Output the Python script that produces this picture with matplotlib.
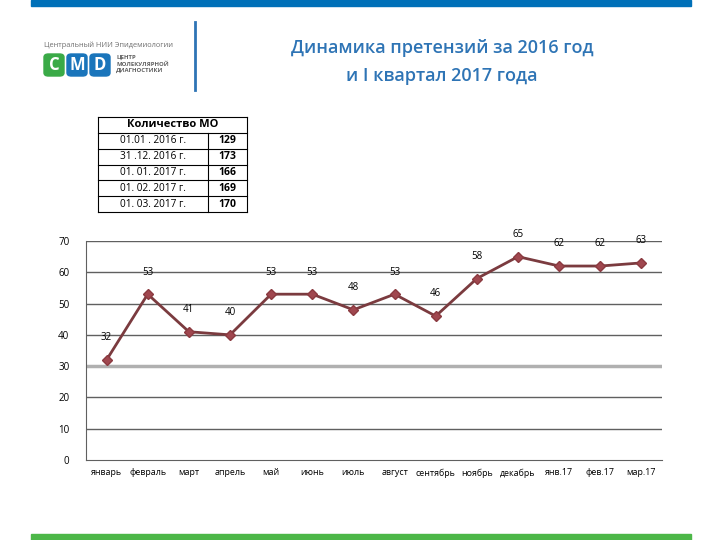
import matplotlib
matplotlib.use("Agg")
import matplotlib.pyplot as plt
from matplotlib.patches import Rectangle, FancyBboxPatch

plt.rcParams['font.family'] = ['Open Sans', 'DejaVu Sans']

months = ["январь", "февраль", "март", "апрель", "май", "июнь", "июль",
          "август", "сентябрь", "ноябрь", "декабрь", "янв.17", "фев.17", "мар.17"]
claims = [32, 53, 41, 40, 53, 53, 48, 53, 46, 58, 65, 62, 62, 63]

table_title = "Количество МО"
table_dates = ["01.01 . 2016 г.", "31 .12. 2016 г.", "01. 01. 2017 г.",
               "01. 02. 2017 г.", "01. 03. 2017 г."]
table_counts = [129, 173, 166, 169, 170]

W, H = 720, 540
fig = plt.figure(figsize=(7.2, 5.4), dpi=100)

def fx(px):
    return px / W

def fy(py):
    return 1 - py / H

# top and bottom stripes
fig.patches.append(Rectangle((fx(31), fy(6)), fx(660), 6 / H, transform=fig.transFigure,
                             color="#0070b8", zorder=0))
fig.patches.append(Rectangle((fx(31), fy(540)), fx(660), 6 / H, transform=fig.transFigure,
                             color="#4cb748", zorder=0))

# logo
fig.text(fx(44), fy(45), "Центральный НИИ Эпидемиологии", fontsize=5.3, color="#707070", va="center")
for i, (ch, col) in enumerate([("C", "#3aaa47"), ("M", "#1a75bb"), ("D", "#1a75bb")]):
    x0 = 44 + i * 23
    fig.patches.append(FancyBboxPatch((fx(x0), fy(76)), fx(20), 22 / H,
                                      boxstyle="round,pad=0,rounding_size=0.006",
                                      transform=fig.transFigure, color=col))
    fig.text(fx(x0 + 10), fy(65), ch, fontsize=12, fontweight="bold", color="white",
             ha="center", va="center")
fig.text(fx(116), fy(64), "ЦЕНТР\nМОЛЕКУЛЯРНОЙ\nДИАГНОСТИКИ", fontsize=4.3,
         color="#606060", va="center", linespacing=1.3, fontweight="bold")
fig.add_artist(plt.Line2D([fx(195), fx(195)], [fy(22), fy(90)], color="#2e74b5", lw=2))

# title
fig.text(fx(442), fy(48), "Динамика претензий за 2016 год", fontsize=13, color="#2e74b5",
         ha="center", va="center", fontweight="semibold")
fig.text(fx(442), fy(76), "и I квартал 2017 года", fontsize=13, color="#2e74b5",
         ha="center", va="center", fontweight="semibold")

# table
tx0, tx1, ty0, ty1 = 98, 247, 117, 212
tab = fig.add_axes([fx(tx0), fy(ty1), fx(tx1 - tx0), (ty1 - ty0) / H])
tab.set_xlim(0, 1)
tab.set_ylim(len(table_dates) + 1, 0)
tab.axis("off")
tab.text(0.5, 0.5, table_title, ha="center", va="center", fontsize=8, fontweight="bold")
split = (208 - tx0) / (tx1 - tx0)
for r, (d, c) in enumerate(zip(table_dates, table_counts), start=1):
    tab.text(split / 2, r + 0.5, d, ha="center", va="center", fontsize=7.2)
    tab.text((split + 1) / 2, r + 0.5, str(c), ha="center", va="center", fontsize=7.5,
             fontweight="bold")
for r in range(len(table_dates) + 2):
    tab.plot([0, 1], [r, r], color="black", lw=0.8, clip_on=False)
tab.plot([0, 0], [0, len(table_dates) + 1], color="black", lw=0.8, clip_on=False)
tab.plot([1, 1], [0, len(table_dates) + 1], color="black", lw=0.8, clip_on=False)
tab.plot([split, split], [1, len(table_dates) + 1], color="black", lw=0.8, clip_on=False)

# chart
ax = fig.add_axes([fx(86), fy(460), fx(662 - 86), (460 - 241) / H])
x = list(range(len(months)))
ax.plot(x, claims, color="#7b3b3f", lw=2, marker="D", markersize=5.5,
        markerfacecolor="#a0474f", markeredgecolor="#8b3a40", zorder=3)
for xi, v in zip(x, claims):
    ax.annotate(str(v), (xi, v), xytext=(0, 12), textcoords="offset points",
                ha="center", va="bottom", fontsize=7)
ax.set_xlim(-0.5, len(months) - 0.5)
ax.set_ylim(0, 70)
ax.set_yticks(range(0, 71, 10))
ax.set_xticks(x)
ax.set_xticklabels(months, fontsize=6.4)
ax.tick_params(axis="y", labelsize=7, length=0, pad=12)
ax.tick_params(axis="x", length=0, pad=6)
for yv in range(10, 71, 10):
    ax.axhline(yv, color="#606060" if yv != 30 else "#b0b0b0",
               lw=1 if yv != 30 else 2.5, zorder=1)
for s in ["top", "right"]:
    ax.spines[s].set_visible(False)
ax.spines["left"].set_color("#606060")
ax.spines["bottom"].set_color("#606060")

fig.savefig("out.png", dpi=100)
